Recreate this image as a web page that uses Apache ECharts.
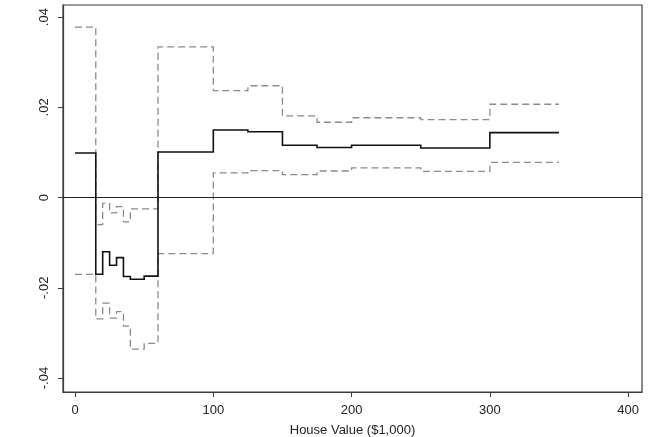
<!DOCTYPE html>
<html>
<head>
<meta charset="utf-8">
<script src="https://cdn.jsdelivr.net/npm/echarts@6/dist/echarts.min.js"></script>
<style>
  html, body { margin: 0; padding: 0; background: #fff; }
  #chart { width: 654px; height: 437px; }
</style>
</head>
<body>
<div id="chart"></div>
<script>
// step breakpoints (house value, $1,000); last point closes the final step
const breaks = [0, 15, 20, 25, 30, 35, 40, 50, 60, 100, 125, 150, 175, 200, 250, 300, 350];
const estimate = [0.0099, -0.0170, -0.0120, -0.0150, -0.0133, -0.0175, -0.0181, -0.0174,
  0.0101, 0.0150, 0.0146, 0.0116, 0.0111, 0.0116, 0.0110, 0.0144, 0.0144];
const upper = [0.0378, -0.0060, -0.0013, -0.0034, -0.0020, -0.0054, -0.0025, -0.0025,
  0.0334, 0.0237, 0.0248, 0.0181, 0.0167, 0.0177, 0.0173, 0.0207, 0.0207];
const lower = [-0.0170, -0.0269, -0.0234, -0.0267, -0.0253, -0.0285, -0.0336, -0.0323,
  -0.0124, 0.0055, 0.0060, 0.0051, 0.0059, 0.0066, 0.0058, 0.0078, 0.0078];
const xTicks = [0, 100, 200, 300, 400];
const yTicks = [-0.04, -0.02, 0, 0.02, 0.04];

// step: value holds until the next breakpoint, then jumps
function stepPts(vals) {
  const out = [];
  for (let i = 0; i < breaks.length; i++) {
    if (i > 0) out.push([breaks[i], vals[i - 1]]);
    out.push([breaks[i], vals[i]]);
  }
  return out;
}
const fmtY = (v) => {
  if (Math.abs(v) < 1e-9) return '0';
  return (v < 0 ? '-' : '') + Math.abs(v).toFixed(2).replace(/^0/, '');
};

const chart = echarts.init(document.getElementById('chart'));
const font = 'Liberation Sans, Arial, sans-serif';
const dashed = { color: '#8a8a8a', width: 1.3, type: [7, 4], opacity: 1 };

chart.setOption({
  animation: false,
  textStyle: { fontFamily: font },
  grid: {
    left: 63, right: 12, top: 5, bottom: 45, outerBoundsMode: 'none', containLabel: false,
    show: true, borderColor: '#3a3a3a', borderWidth: 1.2
  },
  xAxis: {
    type: 'value', min: -8.7, max: 410,
    name: 'House Value ($1,000)', nameLocation: 'middle', nameGap: 32,
    nameTextStyle: { fontSize: 13, color: '#222', fontFamily: font },
    axisLine: { show: true, onZero: false, lineStyle: { color: '#3a3a3a', width: 1.2 } },
    axisTick: { show: true, length: 5, lineStyle: { color: '#3a3a3a' }, customValues: xTicks },
    axisLabel: { fontSize: 13, color: '#222', margin: 12, customValues: xTicks },
    splitLine: { show: false }
  },
  yAxis: {
    type: 'value', min: -0.0431, max: 0.0427,
    axisLine: { show: true, onZero: false, lineStyle: { color: '#3a3a3a', width: 1.2 } },
    axisTick: { show: true, length: 5, lineStyle: { color: '#3a3a3a' }, customValues: yTicks },
    axisLabel: { fontSize: 13, color: '#222', rotate: 90, margin: 12, formatter: fmtY, customValues: yTicks },
    splitLine: { show: false }
  },
  series: [
    {
      type: 'lines', coordinateSystem: 'cartesian2d', polyline: true, silent: true,
      data: [{ coords: stepPts(upper) }, { coords: stepPts(lower) }],
      lineStyle: dashed
    },
    {
      type: 'lines', coordinateSystem: 'cartesian2d', polyline: true, silent: true,
      data: [{ coords: stepPts(estimate) }],
      lineStyle: { color: '#111', width: 1.6, opacity: 1 }
    },
    {
      type: 'line', symbol: 'none', data: [],
      markLine: {
        silent: true, symbol: 'none', label: { show: false },
        lineStyle: { color: '#222', width: 1.1, type: 'solid' },
        data: [{ yAxis: 0 }]
      }
    }
  ]
});
</script>
</body>
</html>
